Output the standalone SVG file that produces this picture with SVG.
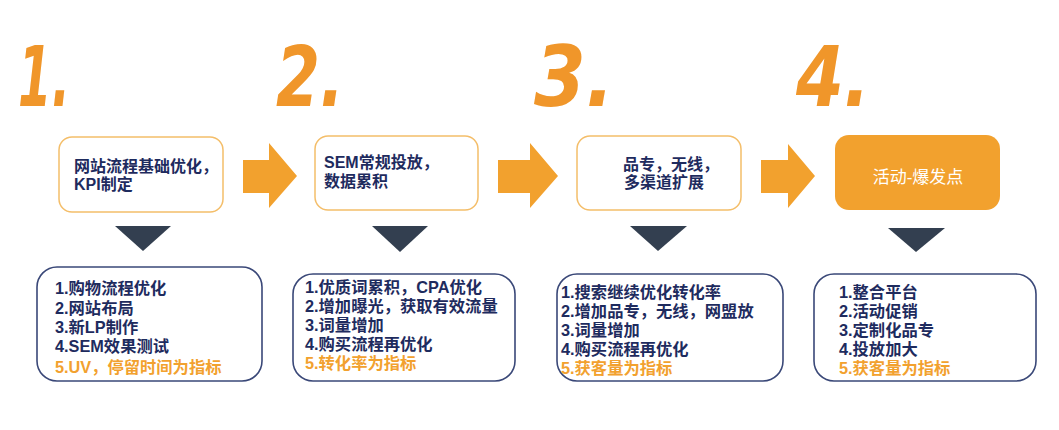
<svg xmlns="http://www.w3.org/2000/svg" width="1059" height="430" viewBox="0 0 1059 430">
<style>
.num{font-family:"DejaVu Sans","Liberation Sans",sans-serif;font-style:italic;font-weight:bold;font-size:84px;fill:#F0962A}
.tb{fill:#fff;stroke:#F4BE6A;stroke-width:1.5}
.tt{font-family:"Liberation Sans","Noto Sans CJK SC",sans-serif;font-weight:bold;font-size:16px;fill:#1E2B5E}
.bb{fill:#fff;stroke:#3A4878;stroke-width:1.6}
.bt{font-family:"Liberation Sans","Noto Sans CJK SC",sans-serif;font-weight:bold;font-size:16.3px;fill:#1E2B5E}
.hl{fill:#F2A12E}
.arr{fill:#F2A12E}
.tri{fill:#333F50}
</style>
<rect width="1059" height="430" fill="#fff"/>
<g id="step-numbers">
<text class="num" x="18" y="106" textLength="52" lengthAdjust="spacingAndGlyphs">1.</text>
<text class="num" x="276" y="106" textLength="68" lengthAdjust="spacingAndGlyphs">2.</text>
<text class="num" x="534" y="106" textLength="80" lengthAdjust="spacingAndGlyphs">3.</text>
<text class="num" x="796" y="106" textLength="74" lengthAdjust="spacingAndGlyphs">4.</text>
</g>
<g id="node1">
<rect class="tb" x="59" y="137" width="164" height="75" rx="13"/>
<text class="tt" x="74" y="172">网站流程基础优化，</text>
<text class="tt" x="74" y="190">KPI制定</text>
</g>
<g id="node2">
<rect class="tb" x="315" y="136" width="163" height="74" rx="13"/>
<text class="tt" x="324" y="168" font-size="14.5">SEM常规投放，</text>
<text class="tt" x="324" y="187" font-size="14.5">数据累积</text>
</g>
<g id="node3">
<rect class="tb" x="577" y="136" width="164" height="74" rx="13"/>
<text class="tt" x="623" y="170" font-size="14.5">品专，无线，</text>
<text class="tt" x="624" y="188" font-size="14.5">多渠道扩展</text>
</g>
<g id="node4">
<rect x="835" y="135" width="165" height="75" rx="14" fill="#F2A12E"/>
<text x="918" y="183" text-anchor="middle" font-family="Liberation Sans,Noto Sans CJK SC,sans-serif" font-size="17" fill="#fff">活动-爆发点</text>
</g>
<g id="connectors">
<polygon class="arr" points="243,160 269,160 269,143 297,176 269,208 269,193 243,193"/>
<polygon class="arr" points="498,160 530,160 530,143 558,176 530,208 530,193 498,193"/>
<polygon class="arr" points="761,160 788,160 788,144 815,176 788,208 788,193 761,193"/>
<polygon class="tri" points="115,226 171,226 143,251"/>
<polygon class="tri" points="372,226 428,226 400,252"/>
<polygon class="tri" points="630,226 687,226 658,251"/>
<polygon class="tri" points="888,228 945,228 916,252"/>
</g>
<g id="detail1">
<rect class="bb" x="37" y="267" width="225" height="114" rx="20"/>
<text class="bt" x="55" y="294">1.购物流程优化</text>
<text class="bt" x="55" y="314">2.网站布局</text>
<text class="bt" x="55" y="333">3.新LP制作</text>
<text class="bt" x="55" y="352">4.SEM效果测试</text>
<text class="bt hl" x="55" y="373">5.UV，停留时间为指标</text>
</g>
<g id="detail2">
<rect class="bb" x="293" y="274" width="222" height="107" rx="20"/>
<text class="bt" x="305" y="293">1.优质词累积，CPA优化</text>
<text class="bt" x="305" y="312">2.增加曝光，获取有效流量</text>
<text class="bt" x="305" y="331">3.词量增加</text>
<text class="bt" x="305" y="350">4.购买流程再优化</text>
<text class="bt hl" x="305" y="369">5.转化率为指标</text>
</g>
<g id="detail3">
<rect class="bb" x="557" y="274" width="226" height="107" rx="20"/>
<text class="bt" x="561" y="298">1.搜索继续优化转化率</text>
<text class="bt" x="561" y="317">2.增加品专，无线，网盟放</text>
<text class="bt" x="561" y="336">3.词量增加</text>
<text class="bt" x="561" y="355">4.购买流程再优化</text>
<text class="bt hl" x="561" y="374">5.获客量为指标</text>
</g>
<g id="detail4">
<rect class="bb" x="814" y="274" width="222" height="107" rx="20"/>
<text class="bt" x="839" y="298">1.整合平台</text>
<text class="bt" x="839" y="317">2.活动促销</text>
<text class="bt" x="839" y="336">3.定制化品专</text>
<text class="bt" x="839" y="355">4.投放加大</text>
<text class="bt hl" x="839" y="374">5.获客量为指标</text>
</g>
</svg>
